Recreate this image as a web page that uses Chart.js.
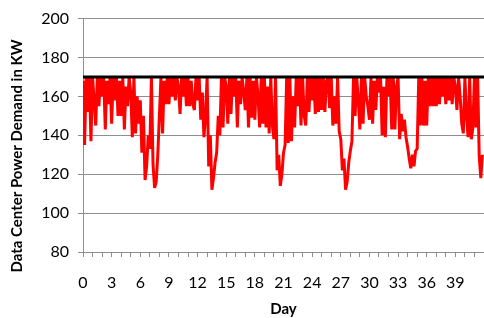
<!DOCTYPE html>
<html>
<head>
<meta charset="utf-8">
<script src="https://cdn.jsdelivr.net/npm/chart.js@4.4.1/dist/chart.umd.min.js"></script>
<style>
  html, body { margin: 0; padding: 0; background: #fff; }
  #wrap { width: 484px; height: 318px; }
</style>
</head>
<body>
<div id="wrap"><canvas id="powerChart"></canvas></div>
<script>
// Readings every 4 hours (6 per day), estimated from the original plot
const readingsPerDay = 6;
const demandKW = [
  168, 135, 170, 152, 170, 137,   // day 0
  170, 158, 145, 170, 155, 170,
  160, 170, 143, 168, 156, 170,
  146, 170, 158, 170, 150, 168,
  150, 170, 143, 165, 155, 170,
  162, 139, 170, 141, 160, 146,   // day 5
  158, 131, 150, 117, 124, 140,
  133, 170, 125, 113, 116, 130,
  150, 170, 141, 168, 156, 170,
  156, 170, 160, 170, 158, 170,
  165, 151, 170, 160, 170, 155,   // day 10
  170, 155, 168, 156, 153, 170,
  158, 170, 148, 162, 139, 150,
  170, 124, 140, 112, 118, 126,
  131, 150, 140, 170, 144, 170,
  165, 146, 170, 151, 170, 160,   // day 15
  170, 144, 168, 156, 170, 162,
  153, 170, 144, 170, 149, 168,
  148, 170, 160, 144, 170, 146,
  170, 144, 165, 141, 170, 145,
  138, 170, 122, 130, 114, 120,   // day 20
  131, 135, 170, 136, 170, 137,
  160, 144, 170, 155, 170, 145,
  170, 150, 145, 170, 152, 170,
  158, 170, 151, 170, 152, 170,
  153, 170, 152, 168, 170, 154,   // day 25
  170, 145, 160, 146, 170, 142,
  138, 122, 128, 112, 116, 126,
  132, 137, 170, 150, 170, 158,
  143, 170, 146, 170, 160, 155,
  148, 170, 146, 168, 153, 170,   // day 30
  162, 170, 140, 165, 139, 170,
  160, 170, 143, 170, 143, 165,
  170, 138, 151, 142, 148, 139,
  134, 128, 123, 130, 124, 132,
  133, 170, 145, 170, 145, 168,   // day 35
  145, 170, 155, 170, 155, 170,
  155, 170, 156, 170, 160, 170,
  156, 170, 158, 170, 156, 170,
  165, 153, 170, 160, 146, 141,
  170, 150, 139, 170, 138, 144,   // day 40
  170, 144, 170, 129, 118, 130
];
const capacityKW = 170;
const dayMin = 0;
const dayMax = 42;
const lastDayLabel = 39;
const yMin = 80;
const yMax = 200;
const yStep = 20;

const demandPoints = demandKW.map((v, i) => ({ x: i / readingsPerDay, y: v }));
const capacityPoints = [{ x: dayMin, y: capacityKW }, { x: dayMax, y: capacityKW }];

const gridGray = '#8e8e8e';
const textFont = 'Lato, "Open Sans", sans-serif';

// y axis title drawn by hand so it can sit where the original has it
const yTitlePlugin = {
  id: 'yTitle',
  afterDraw(chart) {
    const ctx = chart.ctx;
    ctx.save();
    ctx.translate(17, 156);
    ctx.rotate(-Math.PI / 2);
    ctx.font = 'bold 15px ' + textFont;
    ctx.fillStyle = '#000';
    ctx.textAlign = 'center';
    ctx.textBaseline = 'middle';
    ctx.fillText('Data Center Power Demand in KW', 0, 0);
    ctx.restore();
  }
};

new Chart(document.getElementById('powerChart'), {
  type: 'line',
  data: {
    datasets: [
      {
        label: 'Capacity',
        data: capacityPoints,
        borderColor: '#000',
        borderWidth: 3,
        pointRadius: 0,
        order: 0
      },
      {
        label: 'Demand',
        data: demandPoints,
        borderColor: '#ff0000',
        borderWidth: 3,
        borderJoinStyle: 'bevel',
        pointRadius: 0,
        tension: 0,
        order: 1
      }
    ]
  },
  options: {
    responsive: true,
    maintainAspectRatio: false,
    animation: false,
    layout: { padding: { top: 15, right: 0, left: 0, bottom: 0 } },
    plugins: {
      legend: { display: false },
      tooltip: { enabled: false }
    },
    scales: {
      x: {
        type: 'linear',
        min: dayMin,
        max: dayMax,
        afterFit: axis => {
          axis.height = 66;
          axis.paddingRight = 0;   // plot runs to the right edge like the original
        },
        border: { color: gridGray, width: 1 },
        grid: { drawOnChartArea: false, drawTicks: true, tickLength: 5, color: gridGray },
        ticks: {
          stepSize: 1,
          autoSkip: false,
          maxRotation: 0,
          padding: 16,
          color: '#000',
          font: { family: textFont, size: 16 },
          callback: v => (v % 3 === 0 && v <= lastDayLabel) ? String(v) : ''
        },
        title: {
          display: true,
          text: 'Day',
          color: '#000',
          font: { family: textFont, size: 15, weight: 'bold' },
          padding: { top: 2, bottom: 0 }
        }
      },
      y: {
        min: yMin,
        max: yMax,
        afterFit: axis => { axis.width = 83; },
        border: { color: gridGray, width: 1 },
        grid: { color: gridGray, tickLength: 5 },
        ticks: {
          stepSize: yStep,
          padding: 9,
          color: '#000',
          font: { family: textFont, size: 16 }
        }
      }
    }
  },
  plugins: [yTitlePlugin]
});
</script>
</body>
</html>
